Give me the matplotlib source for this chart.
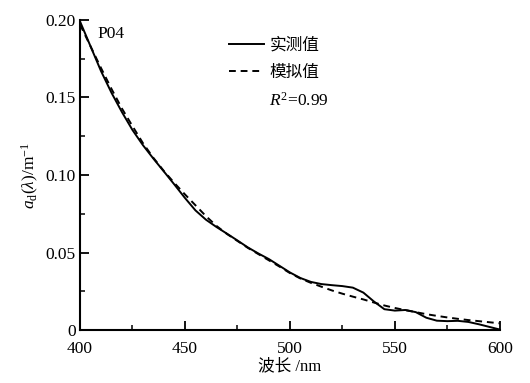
import matplotlib
matplotlib.use("Agg")
import matplotlib.pyplot as plt
from matplotlib.ticker import MultipleLocator, FuncFormatter
from matplotlib.lines import Line2D

plt.rcParams['font.family'] = ['Liberation Serif', 'Noto Sans CJK SC', 'DejaVu Sans']
plt.rcParams['mathtext.fontset'] = 'custom'
plt.rcParams['mathtext.rm'] = 'Liberation Serif'
plt.rcParams['mathtext.it'] = 'Liberation Serif:italic'

wavelength = [400, 405, 410, 415, 420, 425, 430, 435, 440, 445, 450, 455, 460, 465,
              470, 475, 480, 485, 490, 495, 500, 505, 510, 515, 520, 525, 530, 535,
              540, 545, 550, 555, 560, 565, 570, 575, 580, 585, 590, 595, 600]
measured = [0.199, 0.183, 0.167, 0.153, 0.1405, 0.129, 0.1192, 0.1105, 0.1022, 0.0938,
            0.0852, 0.0772, 0.0712, 0.0665, 0.0622, 0.0578, 0.0533, 0.0494, 0.0458, 0.0415,
            0.0372, 0.0336, 0.0311, 0.0297, 0.0290, 0.0284, 0.0274, 0.0242, 0.0185, 0.0135,
            0.0126, 0.0130, 0.0116, 0.0080, 0.0061, 0.0058, 0.0060, 0.0053, 0.0038, 0.0021,
            0.0004]
modeled = [0.197, 0.183, 0.169, 0.1555, 0.1428, 0.1315, 0.1205, 0.111, 0.1025, 0.0948,
           0.0875, 0.0805, 0.0735, 0.0672, 0.0620, 0.0575, 0.0530, 0.0490, 0.0450, 0.0410,
           0.0368, 0.0333, 0.0305, 0.0280, 0.0256, 0.0235, 0.0216, 0.0198, 0.0178, 0.0159,
           0.0143, 0.0129, 0.0116, 0.0103, 0.0092, 0.0082, 0.0073, 0.0065, 0.0058, 0.0051,
           0.0044]
legend_labels = ['实测值', '模拟值']
station = 'P04'
r2_text = '$R^2$=0.99'

fig = plt.figure(figsize=(5.3, 3.83), dpi=100)
ax = fig.add_axes([0.151, 0.138, 0.792, 0.81])

ax.plot(wavelength, measured, color='black', lw=1.4, ls='-')
ax.plot(wavelength, modeled, color='black', lw=1.4, ls=(0, (3.5, 2.5)))

ax.set_xlim(400, 600)
ax.set_ylim(0, 0.2)
ax.xaxis.set_major_locator(MultipleLocator(50))
ax.xaxis.set_minor_locator(MultipleLocator(25))
ax.yaxis.set_major_locator(MultipleLocator(0.05))
ax.yaxis.set_minor_locator(MultipleLocator(0.025))
ax.yaxis.set_major_formatter(FuncFormatter(lambda v, p: '0' if abs(v) < 1e-9 else f'{v:.2f}'))

for s in ['top', 'right']:
    ax.spines[s].set_visible(False)
for s in ['left', 'bottom']:
    ax.spines[s].set_linewidth(1.5)

ax.tick_params(which='major', direction='in', length=6.5, width=1.3, labelsize=12.5)
ax.tick_params(axis='x', which='major', pad=7.5)
ax.tick_params(axis='y', which='major', pad=3)
ax.tick_params(which='minor', direction='in', length=3.5, width=1.1)

ax.set_xlabel('波长 /nm', fontsize=12, labelpad=1)
ax.set_ylabel(r'$a_{\mathrm{d}}(\lambda)$/m$^{-1}$', fontsize=12.5, labelpad=3)

ax.text(0.042, 0.955, station, transform=ax.transAxes, fontsize=12.5, va='center', ha='left')

handles = [Line2D([], [], color='black', lw=1.4, ls='-'),
           Line2D([], [], color='black', lw=1.4, ls=(0, (3.5, 2.5)))]
ax.legend(handles, legend_labels, loc='upper left', bbox_to_anchor=(0.338, 0.968),
          frameon=False, handlelength=2.1, handletextpad=0.35,
          labelspacing=0.62, borderaxespad=0,
          prop={'family': ['Noto Sans CJK SC'], 'size': 12})
ax.text(0.451, 0.738, r2_text, transform=ax.transAxes, fontsize=12.5, va='center', ha='left')

fig.savefig('out.png', dpi=100)
